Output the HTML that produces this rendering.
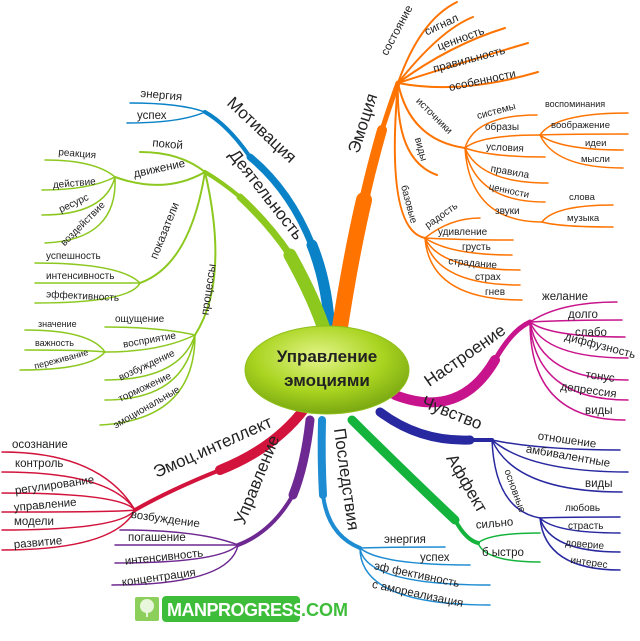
<!DOCTYPE html>
<html><head><meta charset="utf-8"><style>
html,body{margin:0;padding:0;background:#fff}
svg{display:block}
text{font-family:"Liberation Sans",sans-serif;fill:#222}
.l{font-size:11.5px}
.s{font-size:10px}
.m{font-size:17px}
</style></head><body>
<svg width="640" height="641" viewBox="0 0 640 641" xmlns="http://www.w3.org/2000/svg">
<defs>
<radialGradient id="eg" cx="45%" cy="35%" r="65%">
<stop offset="0" stop-color="#e4f58a"/><stop offset="0.6" stop-color="#a9d420"/><stop offset="1" stop-color="#7aa812"/>
</radialGradient>
</defs>
<g fill="none" stroke-linecap="round">
<!-- Motivation -->
<g stroke="#0a82c8">
<path d="M330,335 Q328,285 312,245" stroke-width="11"/>
<path d="M312,245 Q290,190 250,157" stroke-width="7"/>
<path d="M250,157 Q228,125 205,112" stroke-width="4"/>
<path d="M205,112 Q180,103 130,103" stroke-width="1.5"/>
<path d="M205,112 Q180,123 127,123" stroke-width="1.5"/>
</g>
<!-- Activity -->
<g stroke="#8cc81e">
<path d="M326,335 Q315,300 290,255" stroke-width="13"/>
<path d="M290,255 Q270,225 240,197" stroke-width="7"/>
<path d="M240,197 Q222,182 205,172" stroke-width="4"/>
<g stroke-width="2">
<path d="M205,172 Q180,152 140,152"/>
<path d="M205,172 Q165,195 115,177"/>
<path d="M205,172 Q190,265 140,283"/>
<path d="M205,172 Q230,280 195,335"/>
</g>
<g stroke-width="1.5">
<path d="M115,177 Q95,160 45,160"/>
<path d="M115,177 Q90,190 42,190"/>
<path d="M115,177 Q105,215 42,215"/>
<path d="M115,177 Q118,240 45,243"/>
<path d="M140,283 Q120,263 35,263"/>
<path d="M140,283 Q125,283 35,283"/>
<path d="M140,283 Q130,303 35,303"/>
<path d="M195,335 Q160,327 105,327"/>
<path d="M195,335 Q160,352 105,352"/>
<path d="M195,335 Q180,380 105,380"/>
<path d="M195,335 Q185,400 105,400"/>
<path d="M195,335 Q195,420 100,425"/>
<path d="M105,352 Q90,330 25,330"/>
<path d="M105,352 Q90,350 25,350"/>
<path d="M105,352 Q90,370 20,370"/>
</g>
</g>
<!-- Emotion -->
<g stroke="#ff7300">
<path d="M338,340 Q350,260 364,200" stroke-width="16"/>
<path d="M364,200 Q372,165 382,130" stroke-width="10"/>
<path d="M382,130 Q390,105 398,83" stroke-width="5"/>
<g stroke-width="2">
<path d="M398,83 Q420,20 457,2"/>
<path d="M398,83 Q440,30 473,17"/>
<path d="M398,83 Q450,45 505,28"/>
<path d="M398,83 Q470,60 528,43"/>
<path d="M398,83 Q460,95 538,72"/>
<path d="M398,83 Q410,140 465,148"/>
<path d="M398,83 Q395,160 437,175"/>
<path d="M398,83 Q385,230 425,238"/>
</g>
<g stroke-width="1.5">
<path d="M465,148 Q475,115 537,115"/>
<path d="M465,148 Q480,135 540,135"/>
<path d="M465,148 Q490,157 545,157"/>
<path d="M465,148 Q480,183 548,183"/>
<path d="M465,148 Q475,202 545,202"/>
<path d="M465,148 Q470,222 542,222"/>
<path d="M540,135 Q555,113 628,113"/>
<path d="M540,135 Q560,134 628,134"/>
<path d="M540,135 Q560,150 623,150"/>
<path d="M540,135 Q555,168 623,168"/>
<path d="M542,222 Q555,205 613,205"/>
<path d="M542,222 Q560,227 613,227"/>
<path d="M425,238 Q450,218 480,218"/>
<path d="M425,238 Q460,240 513,240"/>
<path d="M425,238 Q450,255 512,255"/>
<path d="M425,238 Q440,270 520,270"/>
<path d="M425,238 Q435,285 520,285"/>
<path d="M425,238 Q430,300 522,300"/>
</g>
</g>
<!-- Mood -->
<g stroke="#c8148c">
<path d="M395,395 Q460,420 495,360" stroke-width="10"/>
<path d="M495,360 Q512,330 530,322" stroke-width="5"/>
<g stroke-width="1.5">
<path d="M530,322 Q560,302 617,302"/>
<path d="M530,322 Q570,320 622,320"/>
<path d="M530,322 Q550,337 625,337"/>
<path d="M530,322 Q545,358 628,358"/>
<path d="M530,322 Q540,380 628,380"/>
<path d="M530,322 Q535,400 628,400"/>
<path d="M530,322 Q530,420 625,420"/>
</g>
</g>
<!-- Feeling -->
<g stroke="#2828a0">
<path d="M380,412 Q420,442 470,440" stroke-width="9"/>
<path d="M470,440 L492,440" stroke-width="4"/>
<g stroke-width="1.5">
<path d="M492,440 Q540,450 620,450"/>
<path d="M492,440 Q530,472 628,472"/>
<path d="M492,440 Q515,492 622,492"/>
<path d="M492,440 Q495,510 540,518"/>
<path d="M540,518 Q560,517 620,517"/>
<path d="M540,518 Q555,533 620,533"/>
<path d="M540,518 Q550,552 620,552"/>
<path d="M540,518 Q545,570 620,570"/>
</g>
</g>
<!-- Affect -->
<g stroke="#14b43c">
<path d="M352,420 Q400,468 455,520" stroke-width="9"/>
<path d="M455,520 Q466,540 478,543" stroke-width="4"/>
<g stroke-width="1.5">
<path d="M478,543 Q490,533 540,533"/>
<path d="M478,543 Q485,562 540,562"/>
</g>
</g>
<!-- Consequences -->
<g stroke="#1e8cd2">
<path d="M322,420 Q321,460 323,495" stroke-width="8"/>
<path d="M323,495 Q328,535 360,548" stroke-width="4"/>
<g stroke-width="1.5">
<path d="M360,548 Q390,547 445,547"/>
<path d="M360,548 Q380,565 470,565"/>
<path d="M360,548 Q365,585 490,585"/>
<path d="M360,548 Q360,605 490,605"/>
</g>
</g>
<!-- Management -->
<g stroke="#6e2891">
<path d="M310,420 Q305,465 293,495" stroke-width="9"/>
<path d="M293,495 Q272,532 238,545" stroke-width="4"/>
<g stroke-width="1.5">
<path d="M238,545 Q200,530 120,530"/>
<path d="M238,545 Q200,545 115,545"/>
<path d="M238,545 Q220,563 115,563"/>
<path d="M238,545 Q230,585 112,585"/>
</g>
</g>
<!-- EI -->
<g stroke="#d2143c">
<path d="M305,408 Q275,448 220,470" stroke-width="10"/>
<path d="M220,470 Q170,490 135,510" stroke-width="4"/>
<g stroke-width="1.5">
<path d="M135,510 Q100,452 2,452"/>
<path d="M135,510 Q110,472 2,472"/>
<path d="M135,510 Q120,493 2,493"/>
<path d="M135,510 Q120,512 2,512"/>
<path d="M135,510 Q120,530 2,530"/>
<path d="M135,510 Q115,550 2,550"/>
</g>
</g>
</g>

<!-- center -->
<ellipse cx="327" cy="370" rx="82" ry="44" fill="url(#eg)" stroke="#8fbf1a" stroke-width="1"/>
<text x="327" y="362" text-anchor="middle" style="font-size:17px;font-weight:bold">Управление</text>
<text x="327" y="386" text-anchor="middle" style="font-size:17px;font-weight:bold">эмоциями</text>

<!-- main labels -->
<text class="m" text-anchor="middle" transform="translate(258,134) rotate(43)">Мотивация</text>
<text class="m" text-anchor="middle" transform="translate(262,198) rotate(52)">Деятельность</text>
<text class="m" text-anchor="middle" transform="translate(368,125) rotate(-72)">Эмоция</text>
<text class="m" text-anchor="middle" transform="translate(468,360) rotate(-35)">Настроение</text>
<text class="m" text-anchor="middle" transform="translate(450,418) rotate(22)">Чувство</text>
<text class="m" text-anchor="middle" transform="translate(462,486) rotate(60)">Аффект</text>
<text class="m" text-anchor="middle" transform="translate(341,480) rotate(82)">Последствия</text>
<text class="m" text-anchor="middle" transform="translate(262,482) rotate(-68)">Управление</text>
<text class="m" text-anchor="middle" transform="translate(215,452) rotate(-24)">Эмоц.интеллект</text>

<!-- Motivation leaves -->
<text class="l" x="140" y="99" transform="rotate(5 165 99)">энергия</text>
<text class="l" x="137" y="119">успех</text>
<!-- Activity leaves -->
<text class="l" x="152" y="148" transform="rotate(5 170 148)">покой</text>
<text class="l" text-anchor="middle" transform="translate(160,172) rotate(-12)">движение</text>
<text class="s" x="58" y="157" transform="rotate(5 80 157)">реакция</text>
<text class="s" x="53" y="186" transform="rotate(-5 78 186)">действие</text>
<text class="s" text-anchor="middle" transform="translate(75,206) rotate(-25)">ресурс</text>
<text class="s" text-anchor="middle" transform="translate(85,226) rotate(-45)">воздействие</text>
<text class="l" text-anchor="middle" transform="translate(168,232) rotate(-68)">показатели</text>
<text class="s" x="46" y="259">успешность</text>
<text class="s" x="46" y="279">интенсивность</text>
<text class="s" x="46" y="299" transform="rotate(3 80 299)">эффективность</text>
<text class="l" text-anchor="middle" transform="translate(212,290) rotate(-82)">процессы</text>
<text class="s" x="115" y="322">ощущение</text>
<text class="s" text-anchor="middle" transform="translate(150,343) rotate(-10)">восприятие</text>
<text class="s" x="38" y="327" style="font-size:9px">значение</text>
<text class="s" x="35" y="346" style="font-size:9px">важность</text>
<text class="s" text-anchor="middle" transform="translate(62,362) rotate(-15)" style="font-size:9px">переживание</text>
<text class="s" text-anchor="middle" transform="translate(148,368) rotate(-25)">возбуждение</text>
<text class="s" text-anchor="middle" transform="translate(146,390) rotate(-25)">торможение</text>
<text class="s" text-anchor="middle" transform="translate(148,410) rotate(-30)">эмоциональные</text>
<!-- Emotion leaves -->
<text class="l" text-anchor="middle" transform="translate(400,32) rotate(-62)">состояние</text>
<text class="l" text-anchor="middle" transform="translate(443,28) rotate(-25)">сигнал</text>
<text class="l" text-anchor="middle" transform="translate(462,42) rotate(-20)">ценность</text>
<text class="l" text-anchor="middle" transform="translate(470,63) rotate(-15)">правильность</text>
<text class="l" text-anchor="middle" transform="translate(483,84) rotate(-12)">особенности</text>
<text class="s" text-anchor="middle" transform="translate(432,118) rotate(45)">источники</text>
<text class="s" text-anchor="middle" transform="translate(418,150) rotate(75)">виды</text>
<text class="s" text-anchor="middle" transform="translate(406,205) rotate(75)">базовые</text>
<text class="s" text-anchor="middle" transform="translate(497,114) rotate(-15)">системы</text>
<text class="s" x="485" y="130">образы</text>
<text class="s" x="486" y="151" transform="rotate(3 510 151)">условия</text>
<text class="s" x="490" y="175" transform="rotate(10 510 175)">правила</text>
<text class="s" x="488" y="194" transform="rotate(12 510 194)" style="font-size:9.5px">ценности</text>
<text class="s" x="495" y="214">звуки</text>
<text class="s" x="545" y="107" style="font-size:9px">воспоминания</text>
<text class="s" x="551" y="128" style="font-size:9.5px">воображение</text>
<text class="s" x="585" y="146" style="font-size:9.5px">идеи</text>
<text class="s" x="581" y="162" style="font-size:9.5px">мысли</text>
<text class="s" x="569" y="200" style="font-size:9.5px">слова</text>
<text class="s" x="567" y="221" style="font-size:9.5px">музыка</text>
<text class="s" text-anchor="middle" transform="translate(443,218) rotate(-35)">радость</text>
<text class="s" x="438" y="235">удивление</text>
<text class="s" x="462" y="250">грусть</text>
<text class="s" x="448" y="266" transform="rotate(5 470 266)">страдание</text>
<text class="s" x="475" y="280">страх</text>
<text class="s" x="485" y="295">гнев</text>
<!-- Mood leaves -->
<text class="l" x="542" y="300">желание</text>
<text class="l" x="568" y="318">долго</text>
<text class="l" x="575" y="336">слабо</text>
<text class="l" x="562" y="348" transform="rotate(15 595 352)">диффузность</text>
<text class="l" x="585" y="380" transform="rotate(8 600 380)">тонус</text>
<text class="l" x="560" y="394" transform="rotate(8 590 394)">депрессия</text>
<text class="l" x="585" y="414">виды</text>
<!-- Feeling leaves -->
<text class="l" x="537" y="444" transform="rotate(8 570 444)">отношение</text>
<text class="l" x="524" y="461" transform="rotate(10 575 465)">амбивалентные</text>
<text class="l" x="585" y="487">виды</text>
<text class="s" text-anchor="middle" transform="translate(512,492) rotate(70)">основные</text>
<text class="s" x="565" y="511">любовь</text>
<text class="s" x="568" y="529">страсть</text>
<text class="s" x="565" y="547" transform="rotate(5 580 547)">доверие</text>
<text class="s" x="570" y="565" transform="rotate(8 585 565)">интерес</text>
<!-- Affect leaves -->
<text class="l" x="476" y="527" transform="rotate(-5 495 527)">сильно</text>
<text class="l" x="482" y="556">б ыстро</text>
<!-- Consequences leaves -->
<text class="l" x="384" y="543">энергия</text>
<text class="l" x="420" y="561">успех</text>
<text class="l" x="372" y="579" transform="rotate(12 420 581)">эф фективность</text>
<text class="l" x="370" y="598" transform="rotate(12 420 600)">с амореализация</text>
<!-- Management leaves -->
<text class="l" x="130" y="524" transform="rotate(8 175 524)">возбуждение</text>
<text class="l" x="128" y="541">погашение</text>
<text class="l" x="125" y="560" transform="rotate(-6 170 560)">интенсивность</text>
<text class="l" x="122" y="580" transform="rotate(-8 165 580)">концентрация</text>
<!-- EI leaves -->
<text class="l" x="12" y="448">осознание</text>
<text class="l" x="15" y="467">контроль</text>
<text class="l" x="15" y="488" transform="rotate(-8 60 488)">регулирование</text>
<text class="l" x="14" y="508" transform="rotate(-5 50 508)">управление</text>
<text class="l" x="14" y="525">модели</text>
<text class="l" x="14" y="546" transform="rotate(-5 40 546)">развитие</text>

<!-- logo -->
<rect x="135" y="597" width="24" height="24" rx="2" fill="#8ccf5a"/>
<circle cx="147" cy="606" r="7" fill="#e8f6dc"/>
<rect x="146" y="610" width="2" height="7" fill="#e8f6dc"/>
<rect x="162" y="596" width="138" height="26" rx="4" fill="#3ebd3a"/>
<text x="167" y="616" style="font-size:18px;font-weight:bold;fill:#fff;letter-spacing:-0.5px">MANPROGRESS</text>
<text x="301" y="616" style="font-size:18px;font-weight:bold;fill:#3ebd3a">.COM</text>
</svg>
</body></html>
